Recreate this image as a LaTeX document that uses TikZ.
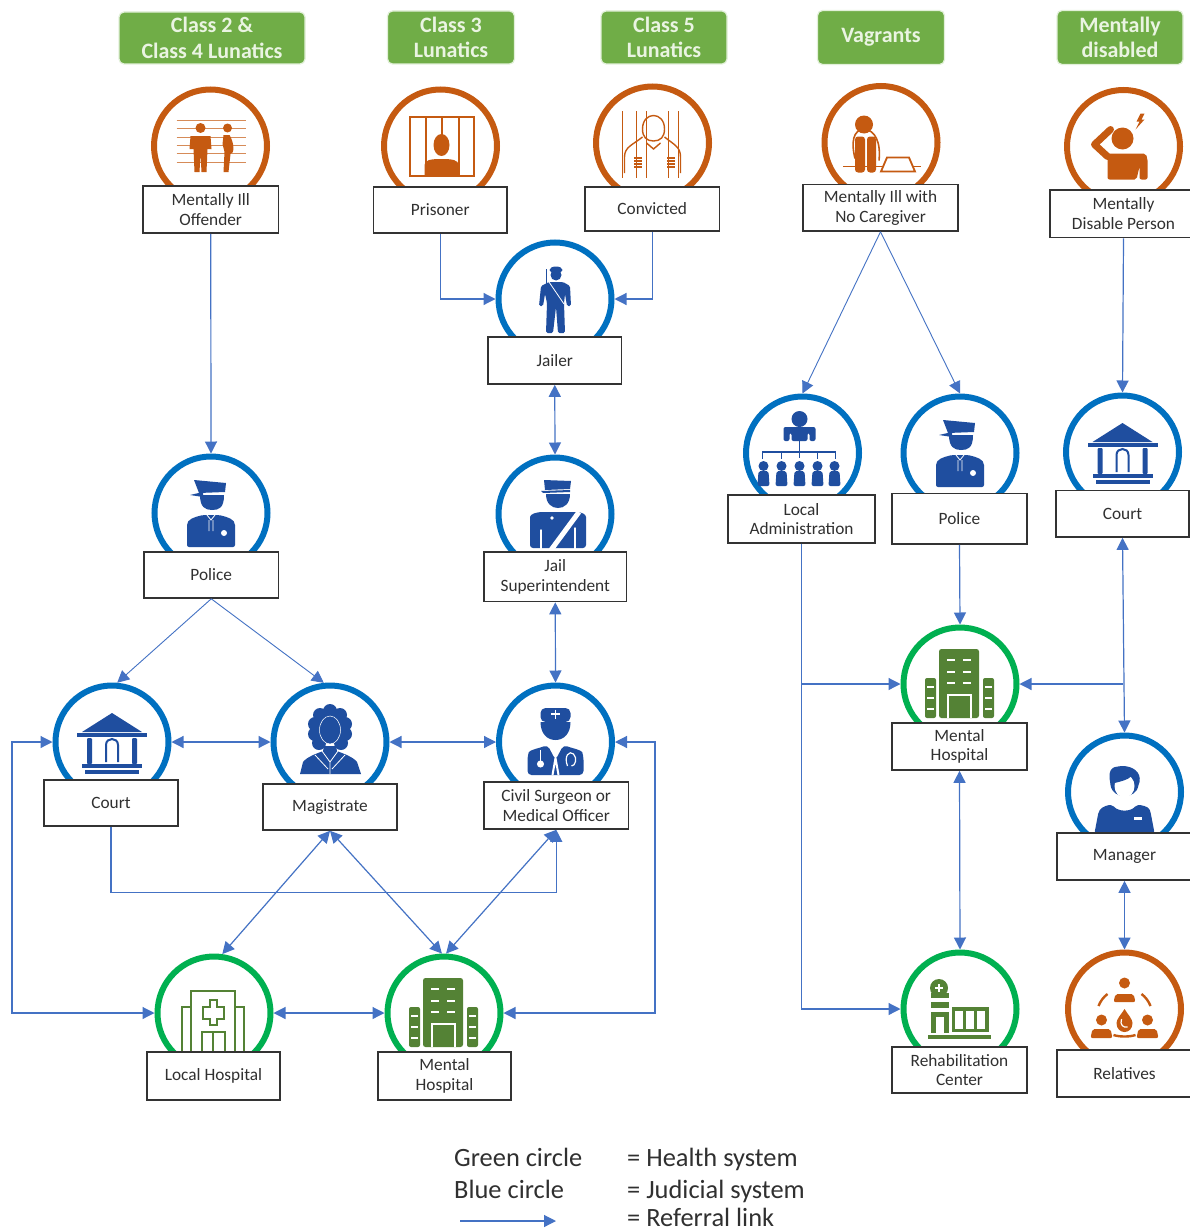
\documentclass[tikz,border=0pt]{standalone}
\usepackage{fontspec}
\setmainfont{Carlito}
\usetikzlibrary{arrows.meta}
\definecolor{hdrfill}{HTML}{70AD47}
\definecolor{hdredge}{HTML}{E2F0D9}
\definecolor{hdrtext}{HTML}{EAF4E2}
\definecolor{ringo}{HTML}{C55A11}
\definecolor{ringb}{HTML}{0070C0}
\definecolor{ringg}{HTML}{00B050}
\definecolor{icb}{HTML}{1F4E9F}
\definecolor{icg}{HTML}{548235}
\definecolor{linkc}{HTML}{4472C4}
\definecolor{boxedge}{HTML}{333333}
\definecolor{txt}{HTML}{303030}
\tikzset{
  ring/.style={circle,line width=6pt,minimum size=113pt,inner sep=0pt,fill=white},
  box/.style={draw=boxedge,line width=1.6pt,fill=white,align=center,inner sep=0pt,text=txt,
    font=\fontsize{17.3}{19.5}\selectfont,execute at begin node={\vspace*{3pt}}},
  hdr/.style={fill=hdrfill,draw=hdredge,line width=1.2pt,rounded corners=5pt,align=center,inner sep=0pt,
    text=hdrtext,font=\fontsize{22}{25.5}\selectfont\bfseries},
  link/.style={draw=linkc,line width=1.2pt,-{Triangle[length=12pt,width=12pt]}},
  thinlink/.style={link,line width=0.9pt},
  bilink/.style={draw=linkc,line width=1.2pt,{Triangle[length=12pt,width=12pt]}-{Triangle[length=12pt,width=12pt]}},
  legendtext/.style={anchor=base west,inner sep=0pt,text=txt,font=\fontsize{26.4}{30}\selectfont},
  %
  pics/iconlineup/.style={code={
    \foreach \yy in {-26,-18,-9,-1,7,16} \draw[ringo!70,line width=0.8pt] (-34,\yy) -- (35,\yy);
    \fill[ringo] (-10,-18) circle[radius=5pt];
    \fill[ringo] (-20,-10) -- (0,-10) -- (1,3) -- (-3,3) -- (-4,26) -- (-9,26) -- (-10,8) -- (-11,26) -- (-16,26) -- (-17,3) -- (-21,3) -- cycle;
    \fill[ringo] (17,-18) circle[radius=4.5pt];
    \fill[ringo] (13,-11) -- (19,-11) .. controls (24,-3) and (24,8) .. (20,8) -- (18,26) -- (13,26) -- (14,6) -- (12,-2) -- cycle;
  }},
  pics/iconprison/.style={code={
    \draw[ringo,line width=2pt] (-31,-29) rectangle (33,30);
    \draw[ringo,line width=2pt] (-15,-29) -- (-15,30) (18,-29) -- (18,30) (1,-29) -- (1,-10);
    \fill[ringo] (1,-1) ellipse[x radius=8pt,y radius=11pt];
    \fill[ringo] (-16,30) -- (-16,19) .. controls (-16,14) and (-10,13) .. (1,13) .. controls (12,13) and (18,14) .. (18,19) -- (18,30) -- cycle;
  }},
  pics/iconconv/.style={code={
    \begin{scope}[draw=ringo,line width=1.4pt]
    \draw (-30,-32) -- (-30,35) (-16,-32) -- (-16,35) (-6,-32) -- (-6,35) (16,-32) -- (16,35) (26,-32) -- (26,35);
    \draw (-10,-14) .. controls (-10,-32) and (12,-32) .. (12,-14) .. controls (12,-6) and (8,-2) .. (1,-2) .. controls (-6,-2) and (-10,-6) .. (-10,-14);
    \draw (-10,-6) .. controls (-20,2) and (-28,4) .. (-28,14) -- (-28,30) (12,-6) .. controls (22,2) and (28,4) .. (28,14) -- (28,30);
    \draw (-6,0) -- (1,6) -- (8,0);
    \end{scope}
    \foreach \xx in {-15,18} \foreach \yy in {16,19,22,25} \fill[ringo] (\xx-4,\yy) rectangle ++(8,-2);
  }},
  pics/iconvag/.style={code={
    \fill[ringo] (-17,-18) circle[radius=9pt];
    \draw[ringo,line width=1.6pt] (-26,16) .. controls (-30,0) and (-28,-13) .. (-17,-13) .. controls (-6,-13) and (0,0) .. (-2,18);
    \fill[ringo,rounded corners=3pt] (-26,-6) rectangle (-16,30);
    \fill[ringo,rounded corners=3pt] (-14,-6) rectangle (-5,30);
    \draw[ringo,line width=1.6pt] (-38,24) -- (40,24);
    \draw[ringo,line width=1.8pt,fill=white] (0,29) -- (6,15) -- (28,15) -- (34,29) -- cycle;
  }},
  pics/iconhead/.style={code={
    \fill[ringo] (-1,-8) circle[radius=11pt];
    \draw[ringo,line width=7pt,line cap=round,line join=round] (-13,-17) -- (-29,-2) -- (-16,10);
    \fill[ringo,rounded corners=2pt] (-16,7) -- (22,7) -- (24,12) -- (24,33) -- (16,33) -- (16,20) -- (13,33) -- (-16,33) -- cycle;
    \fill[ringo] (17,-33) -- (13,-25) -- (16,-25) -- (12,-17) -- (21,-27) -- (18,-27) -- (21,-33) -- cycle;
  }},
  pics/iconpolice/.style={code={
    \fill[icb] (-17,-33) -- (15,-30) -- (14,-21) -- (-12,-20) -- cycle;
    \fill[icb] (-21,-18) -- (-8,-21) -- (-8,-16) -- cycle;
    \fill[icb] (-11,-18) -- (13,-18) .. controls (13,-5) and (8,-3) .. (1,-3) .. controls (-6,-3) and (-11,-6) .. cycle;
    \fill[icb,rounded corners=2pt] (-24,34) -- (-24,14) .. controls (-24,6) and (-16,4) .. (-8,2) -- (8,2) .. controls (16,4) and (24,6) .. (24,14) -- (24,34) -- cycle;
    \draw[white,line width=0.8pt] (-4,2) -- (0,7) -- (4,2) (-2,7) -- (-2,18) (2,7) -- (2,18);
    \fill[white] (13,20) circle[radius=3pt];
  }},
  pics/iconjailer/.style={code={
    \fill[icb] (1,-29) ellipse[x radius=6.5pt,y radius=3.5pt];
    \fill[icb] (1,-24) circle[radius=5.5pt];
    \draw[icb,line width=1pt] (-9,-30) -- (-9,-14);
    \fill[icb,rounded corners=1.5pt] (-6,-17) -- (8,-17) -- (15,-13) -- (16,7) -- (12,7) -- (10,-5) -- (9,4) -- (10,34) -- (3,34) -- (1,8) -- (-2,34) -- (-9,34) -- (-8,4) -- (-10,-5) -- (-12,7) -- (-16,7) -- (-14,-13) -- cycle;
    \draw[white,line width=0.8pt] (-6,-17) -- (9,5);
  }},
  pics/iconsup/.style={code={
    \fill[icb] (-11,-34) -- (16,-33) -- (15,-25) -- (-10,-24) -- cycle;
    \fill[icb] (-14,-23) -- (15,-24) -- (15,-22) -- (-12,-21) -- cycle;
    \fill[icb] (-9,-20) -- (15,-20) .. controls (15,-10) and (9,-6) .. (3,-6) .. controls (-3,-6) and (-9,-10) .. cycle;
    \fill[icb,rounded corners=3pt] (-25,34) -- (-25,6) .. controls (-25,0) and (-18,-2) .. (-10,-2) -- (18,-2) .. controls (26,-2) and (31,0) .. (31,6) -- (31,34) -- cycle;
    \draw[white,line width=5pt] (24,-2) -- (-4,36);
    \draw[white,line width=1.5pt,line cap=round] (-14,36) -- (-14,16) (20,36) -- (20,14);
    \fill[white] (-3,4) circle[radius=1.8pt];
  }},
  pics/iconcourt/.style={code={
    \fill[icb] (0,-29) -- (30,-10) -- (-30,-10) -- cycle;
    \fill[icb] (-35,-9) rectangle (35,-5);
    \fill[icb,rounded corners=1pt] (-25,-4) rectangle (-20,22);
    \fill[icb,rounded corners=1pt] (20,-4) rectangle (25,22);
    \draw[icb,line width=2pt] (-6,20) -- (-6,3) .. controls (-6,-5) and (6,-5) .. (6,3) -- (6,20);
    \fill[icb] (-30,22) rectangle (30,26);
    \fill[icb] (-27,28) rectangle (27,32);
  }},
  pics/iconmag/.style={code={
    \foreach \xx/\yy in {-10/-27,0/-31,10/-27,-15/-18,15/-18,-15/-8,15/-8,-11/1,11/1}
      \fill[icb] (\xx,\yy) circle[radius=7pt];
    \fill[icb] (-12,-28) rectangle (12,0);
    \draw[white,line width=0.5pt,fill=icb] (0,-12) ellipse[x radius=10.5pt,y radius=14pt];
    \fill[icb] (-30,32) -- (-27,20) .. controls (-22,14) and (-14,12) .. (-7,9) -- (-6,4) -- (6,4) -- (7,9) .. controls (14,12) and (22,14) .. (27,20) -- (31,32) -- cycle;
    \draw[white,line width=0.8pt] (-8,9) -- (0,20) -- (8,9) (0,20) -- (0,32) (-15,13) -- (-2,27) (15,13) -- (2,27);
  }},
  pics/iconcivil/.style={code={
    \fill[icb,rounded corners=5pt] (-15,-20) -- (-15,-34) -- (15,-34) -- (15,-20) -- cycle;
    \fill[icb] (-15,-20) -- (15,-20) .. controls (15,-8) and (8,-2) .. (0,-2) .. controls (-8,-2) and (-15,-8) .. cycle;
    \draw[white,line width=1.3pt] (-4.5,-28) -- (4.5,-28) (0,-32.5) -- (0,-23.5);
    \fill[icb,rounded corners=4pt] (-28,33) -- (-28,14) .. controls (-26,8) and (-16,6) .. (-8,3) -- (0,18) -- (8,3) .. controls (16,6) and (26,8) .. (28,14) -- (28,33) -- cycle;
    \draw[white,line width=2pt] (-3,33) -- (0,16) -- (3,33);
    \draw[white,line width=1pt,fill=white] (-15,22) circle[radius=3pt];
    \draw[white,line width=1.2pt] (-15,8) -- (-15,19);
    \draw[white,line width=1.2pt] (12,24) .. controls (8,14) and (14,8) .. (18,12) .. controls (22,16) and (20,24) .. (16,24);
  }},
  pics/iconadmin/.style={code={
    \fill[icb] (-3,-34) circle[radius=8pt];
    \fill[icb,rounded corners=2pt] (-19,-12) -- (-19,-26) -- (13,-26) -- (13,-12) -- (7,-12) -- (7,-20) -- (5,-20) -- (5,-12) -- (-11,-12) -- (-11,-20) -- (-13,-20) -- (-13,-12) -- cycle;
    \draw[icb,line width=1.2pt] (-3,-12) -- (-3,5) (-40,6) -- (-40,-1) -- (33,-1) -- (33,6) (-21,-1) -- (-21,6) (15,-1) -- (15,6);
    \foreach \xx in {-39,-21,-3,15,32} {
      \fill[icb] (\xx,13) circle[radius=5pt];
      \fill[icb,rounded corners=2pt] (\xx-6,33) -- (\xx-5,18) -- (\xx+5,18) -- (\xx+6,33) -- cycle;
    }
  }},
  pics/iconmanager/.style={code={
    \fill[icb] (-15,-14) .. controls (-16,-28) and (-5,-25) .. (-2,-26) .. controls (8,-26) and (17,-20) .. (15,-10) -- (14,-7) .. controls (12,8) and (-12,8) .. (-14,-7) -- cycle;
    \fill[white] (0,-6) ellipse[x radius=10pt,y radius=11.5pt];
    \fill[icb] (-10,-9) .. controls (-6,-10) and (4,-12) .. (7,-16) .. controls (10,-14) and (12,-12) .. (12,-8) -- (12,-16) -- (-2,-23) -- (-12,-17) -- cycle;
    \fill[icb,rounded corners=2pt] (-30,41) -- (-26,20) .. controls (-22,14) and (-16,13) .. (-12,13) .. controls (-6,20) and (6,20) .. (12,13) .. controls (16,13) and (24,14) .. (26,20) -- (30,41) -- cycle;
    \fill[white] (9,25) rectangle (17,28);
  }},
  pics/iconrel/.style={code={
    \fill[ringo] (0,-26) circle[radius=5.5pt];
    \fill[ringo,rounded corners=2pt] (-11,-7) -- (-9,-15) -- (9,-15) -- (11,-7) -- cycle;
    \foreach \xx in {-23,23} {
      \fill[ringo] (\xx,11) circle[radius=5.5pt];
      \fill[ringo,rounded corners=2pt] (\xx-11,29) -- (\xx-9,20) -- (\xx+9,20) -- (\xx+11,29) -- cycle;
    }
    \draw[ringo,line width=2.4pt] (-26,-3) .. controls (-24,-8) and (-21,-12) .. (-17,-15) (26,-3) .. controls (24,-8) and (21,-12) .. (17,-15) (-11,26) .. controls (-5,28) and (5,28) .. (11,26);
    \fill[ringo] (0,0) .. controls (3,5) and (8,10) .. (8,14) .. controls (8,20) and (4,23) .. (0,23) .. controls (-4,23) and (-8,20) .. (-8,14) .. controls (-8,10) and (-3,5) .. cycle;
    \draw[white,line width=1.2pt] (-3,10) .. controls (-5,16) and (-1,19) .. (3,18);
  }},
  pics/iconhospfill/.style={code={
    \fill[icg,rounded corners=2.5pt] (-21,34) -- (-21,-35) -- (19,-35) -- (19,34) -- cycle;
    \fill[icg,rounded corners=2pt] (-35,34) -- (-35,-6) -- (-24,-6) -- (-24,34) -- cycle;
    \fill[icg,rounded corners=2pt] (23,34) -- (23,-6) -- (34,-6) -- (34,34) -- cycle;
    \foreach \yy in {-25,-13,-2} { \fill[white] (-13,\yy) rectangle ++(8,2); \fill[white] (3,\yy) rectangle ++(8,2); }
    \foreach \yy in {2,13,24} { \fill[white] (-33,\yy) rectangle ++(7,2); \fill[white] (25,\yy) rectangle ++(7,2); }
    \draw[white,line width=1.4pt] (-12,34) -- (-12,11) -- (11,11) -- (11,34);
  }},
  pics/iconhospline/.style={code={
    \draw[icg,line width=1.6pt] (-23,39) -- (-23,-22) -- (21,-22) -- (21,39);
    \draw[icg,line width=1.6pt] (-23,-6) -- (-32,-6) -- (-32,39) (21,-6) -- (30,-6) -- (30,39);
    \draw[icg,line width=1.6pt] (-4,-13) -- (3,-13) -- (3,-6) -- (10,-6) -- (10,6) -- (3,6) -- (3,12) -- (-4,12) -- (-4,6) -- (-11,6) -- (-11,-6) -- (-4,-6) -- cycle;
    \draw[icg,line width=1.6pt] (-12,39) -- (-12,19) -- (11,19) -- (11,39) (-1,19) -- (-1,39);
  }},
  pics/iconrehab/.style={code={
    \fill[icg] (-21,-21) circle[radius=9pt];
    \draw[white,line width=1.1pt] (-25,-21) -- (-17,-21) (-21,-25) -- (-21,-17);
    \fill[icg] (-29,-16) rectangle (-11,-11);
    \fill[icg] (-29,-7) rectangle (-11,-1);
    \fill[icg] (-29,3) rectangle (-11,24);
    \fill[white] (-24,8) rectangle (-16,24);
    \fill[icg] (-8,-2) rectangle (29,23);
    \foreach \xx in {-5,6,17} \fill[white] (\xx,2) rectangle ++(8,18);
    \fill[icg] (-32,26) rectangle (31,30);
  }},
}
\newcommand{\ringat}[4]{\node[ring,draw=#4] (#1) at (#2,#3) {};}
\newcommand{\tbox}[6]{\node[box,minimum width={(#4-#2)*1pt},minimum height={(#5-#3)*1pt}] (#1) at ({(#2+#4)/2},{(#3+#5)/2}) {#6};}
\begin{document}
\begin{tikzpicture}[x=1pt,y=-1pt]
\useasboundingbox (0,0) rectangle (1190,1231);
\begin{scope}
\clip (0,0) rectangle (1190,1231);
\fill[white] (0,0) rectangle (1190,1231);
% headers
\node[hdr,minimum width=186pt,minimum height=52pt] (h1) at (212,38) {Class 2 \&\\Class 4 Lunatics};
\node[hdr,minimum width=127pt,minimum height=53pt] (h2) at (451,37.5) {Class 3\\Lunatics};
\node[hdr,minimum width=126pt,minimum height=53pt] (h3) at (664,37.5) {Class 5\\Lunatics};
\node[hdr,minimum width=127pt,minimum height=54pt] (h4) at (881,37.5) {Vagrants};
\node[hdr,minimum width=126pt,minimum height=54pt] (h5) at (1120,37.5) {Mentally\\disabled};
% rings
\ringat{cMIO}{210.5}{146}{ringo}
\ringat{cPrisoner}{440.5}{146}{ringo}
\ringat{cConvicted}{652.5}{143}{ringo}
\ringat{cVag}{881}{142.5}{ringo}
\ringat{cDis}{1123.5}{146.5}{ringo}
\ringat{cJailer}{555}{299}{ringb}
\ringat{cPolice}{211}{513}{ringb}
\ringat{cJailSup}{555}{514}{ringb}
\ringat{cCourtL}{112}{742}{ringb}
\ringat{cMag}{330}{742}{ringb}
\ringat{cCivil}{555.5}{742}{ringb}
\ringat{cAdmin}{802.5}{453}{ringb}
\ringat{cPoliceR}{960}{453}{ringb}
\ringat{cCourtR}{1122.5}{452}{ringb}
\ringat{cManager}{1124.5}{792}{ringb}
\ringat{cLocalH}{214}{1013}{ringg}
\ringat{cMentalL}{444}{1013}{ringg}
\ringat{cMentalR}{960}{684}{ringg}
\ringat{cRehab}{960}{1009}{ringg}
\ringat{cRel}{1124.5}{1009}{ringo}
% icons
\pic at (cMIO.center) {iconlineup};
\pic at (cPrisoner.center) {iconprison};
\pic at (cConvicted.center) {iconconv};
\pic at (cVag.center) {iconvag};
\pic at (cDis.center) {iconhead};
\pic at (cJailer.center) {iconjailer};
\pic at (cPolice.center) {iconpolice};
\pic at (cJailSup.center) {iconsup};
\pic at (cCourtL.center) {iconcourt};
\pic at (cMag.center) {iconmag};
\pic at (cCivil.center) {iconcivil};
\pic at (cAdmin.center) {iconadmin};
\pic at (cPoliceR.center) {iconpolice};
\pic at (cCourtR.center) {iconcourt};
\pic at (cManager.center) {iconmanager};
\pic at (cLocalH.center) {iconhospline};
\pic at (cMentalL.center) {iconhospfill};
\pic at (cMentalR.center) {iconhospfill};
\pic at (cRehab.center) {iconrehab};
\pic at (cRel.center) {iconrel};
% boxes
\tbox{bMIO}{143}{186}{278.5}{233}{Mentally Ill\\Offender}
\tbox{bPrisoner}{373.5}{187}{507}{233}{Prisoner}
\tbox{bConvicted}{585}{187}{719.5}{231}{Convicted}
\tbox{bJailer}{488}{337}{621.5}{384}{Jailer}
\tbox{bPolice}{144}{552}{278.5}{598}{Police}
\tbox{bJailSup}{484}{552}{626.5}{601.5}{Jail\\Superintendent}
\tbox{bCourtL}{44}{780}{178}{826}{Court}
\tbox{bMag}{263}{784}{397}{830}{Magistrate}
\tbox{bCivil}{484}{782}{628.5}{829}{Civil Surgeon or\\Medical Officer}
\tbox{bLocalH}{147}{1052}{280}{1100}{Local Hospital}
\tbox{bMentalL}{378}{1052}{511}{1100}{Mental\\Hospital}
\tbox{bVag}{803}{184.5}{958}{231}{Mentally Ill with\\No Caregiver}
\tbox{bDis}{1050}{190}{1197}{237.5}{Mentally\\Disable Person}
\tbox{bAdmin}{728}{495}{875}{543}{Local\\Administration}
\tbox{bPoliceR}{892}{493.5}{1027}{544}{Police}
\tbox{bCourtR}{1056}{490.5}{1189}{537}{Court}
\tbox{bMentalR}{892}{723}{1027}{770}{Mental\\Hospital}
\tbox{bManager}{1057}{833}{1192}{880}{Manager}
\tbox{bRehab}{892}{1047}{1027}{1093}{Rehabilitation\\Center}
\tbox{bRel}{1057}{1050}{1192}{1097}{Relatives}
% connectors
\coordinate (leftx) at (12,742);
\coordinate (rightx) at (655,742);
\draw[link] (bMIO.south) -- (cPolice.north);
\draw[link] (bPrisoner.south) |- (cJailer.west);
\draw[link] (bConvicted.south) |- (cJailer.east);
\draw[bilink] (bJailer.south) -- (cJailSup.north);
\draw[bilink] (bJailSup.south) -- (cCivil.north);
\draw[thinlink] (bPolice.south) -- (cCourtL.85);
\draw[thinlink] (bPolice.south) -- (cMag.96);
\draw[bilink] (cCourtL.east) -- (cMag.west);
\draw[bilink] (cMag.east) -- (cCivil.west);
\draw[link] (bCourtL.south) -- ++(0,66) -| (bCivil.south);
\draw[bilink] (cCourtL.west) -- (cCourtL.west -| leftx) |- (cLocalH.west);
\draw[bilink] (cCivil.east) -- (cCivil.east -| rightx) |- (cMentalL.east);
\draw[bilink] (cLocalH.east) -- (cMentalL.west);
\draw[bilink] (bMag.south) -- (cLocalH.82);
\draw[bilink] (bMag.south) -- (cMentalL.92);
\draw[bilink] (bCivil.south) -- (cMentalL.88);
\draw[thinlink] (bVag.south) -- (cAdmin.90);
\draw[thinlink] (bVag.south) -- (cPoliceR.90);
\draw[link] (bDis.south) -- (cCourtR.north);
\draw[link] (bPoliceR.south) -- (cMentalR.north);
\draw[link] (bAdmin.south) |- (cRehab.west);
\draw[link] (bAdmin.south |- cMentalR.west) -- (cMentalR.west);
\draw[bilink] (bCourtR.south) -- (cManager.north);
\draw[link] (cMentalR.east -| bCourtR.south) -- (cMentalR.east);
\draw[bilink] (bMentalR.south) -- (cRehab.north);
\draw[bilink] (bManager.south) -- (cRel.north);
% legend
\node[legendtext] (l1) at (454,1166) {Green circle};
\node[legendtext] (l2) at (627,1166) {= Health system};
\node[legendtext] (l3) at (454,1198) {Blue circle};
\node[legendtext] (l4) at (627,1198) {= Judicial system};
\coordinate (la) at (460,1221);
\coordinate (lb) at (556,1221);
\draw[link] (la) -- (lb);
\node[legendtext] (l5) at (627,1226) {= Referral link};
\end{scope}
\end{tikzpicture}
\end{document}
